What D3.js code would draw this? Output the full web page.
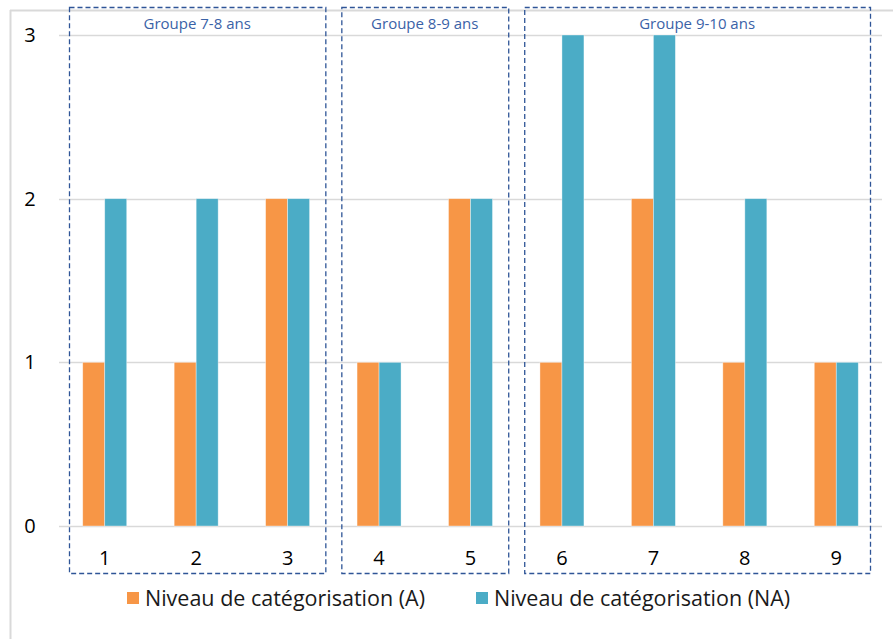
<!DOCTYPE html>
<html><head><meta charset="utf-8">
<script src="https://cdn.jsdelivr.net/npm/d3@7"></script>
<style>body{margin:0;background:#fff}svg{display:block}</style>
</head><body>
<script>
const categories = ["1","2","3","4","5","6","7","8","9"];
const seriesA = [1,1,2,1,2,1,2,1,1];
const seriesNA = [2,2,2,1,2,3,3,2,1];
const seriesNames = ["Niveau de catégorisation (A)", "Niveau de catégorisation (NA)"];
const yTicks = [0,1,2,3];
const groupLabels = ["Groupe 7-8 ans","Groupe 8-9 ans","Groupe 9-10 ans"];
const groupFirst = ["1","4","6"];
const groupLast = ["3","5","9"];

const W = 893, H = 639;
const colors = ["#F79646","#4BACC6"];
const font = "'Open Sans', sans-serif";
const svg = d3.select("body").append("svg").attr("width",W).attr("height",H);

// outer frame
svg.append("line").attr("x1",10.5).attr("x2",10.5).attr("y1",10).attr("y2",H).attr("stroke","#d9d9d9").attr("stroke-width",2);
svg.append("line").attr("x1",10).attr("x2",W).attr("y1",10.5).attr("y2",10.5).attr("stroke","#d9d9d9").attr("stroke-width",2);

const x = d3.scaleBand().domain(categories).range([59,882]);
const y = d3.scaleLinear().domain([0,3]).range([526,35]);

// gridlines
svg.append("g").selectAll("line").data(yTicks).join("line")
  .attr("x1",59).attr("x2",882).attr("y1",d=>Math.round(y(d))+0.5).attr("y2",d=>Math.round(y(d))+0.5)
  .attr("stroke","#d9d9d9").attr("stroke-width",1.5);

// y axis labels
const yAxis = d3.axisLeft(y).tickValues(yTicks).tickSize(0).tickPadding(0).tickFormat(d3.format("d"));
const yg = svg.append("g").attr("transform","translate(30,0)").call(yAxis);
yg.select(".domain").remove();
yg.selectAll("text").attr("font-family",font).attr("font-size",20).attr("fill","#000").attr("text-anchor","middle");

// bars
const bw = 22;
const series = [seriesA, seriesNA];
series.forEach((vals,si)=>{
  svg.append("g").selectAll("rect").data(categories).join("rect")
    .attr("x",(c)=>x(c)+x.bandwidth()/2 + (si===0?-bw:0))
    .attr("width",bw)
    .attr("y",(c,i)=>y(vals[i]))
    .attr("height",(c,i)=>y(0)-y(vals[i]))
    .attr("fill",colors[si]).attr("stroke","#ffffff").attr("stroke-opacity",0.5).attr("stroke-width",0.75);
});

// x axis labels
const xAxis = d3.axisBottom(x).tickSize(0).tickPadding(0);
const xg = svg.append("g").attr("transform","translate(0,558)").call(xAxis);
xg.select(".domain").remove();
xg.selectAll("text").attr("font-family",font).attr("font-size",20).attr("fill","#000").attr("dy","0.35em");

// group boxes
const boxColor = "#2F5597";
groupLabels.forEach((g,i)=>{
  const x0 = x(groupFirst[i]) + (i===0 ? 10 : 8);
  const x1 = x(groupLast[i]) + x.bandwidth() - (i===groupLabels.length-1 ? 12 : 8);
  svg.append("rect").attr("x",x0+0.5).attr("y",7.5).attr("width",x1-x0).attr("height",566)
    .attr("fill","none").attr("stroke",boxColor).attr("stroke-width",1.3).attr("stroke-dasharray","5,3");
  svg.append("text").attr("x",(x0+x1)/2).attr("y",24).attr("dy","0.35em").attr("text-anchor","middle")
    .attr("font-family",font).attr("font-size",15).attr("fill","#3A62A7").text(g);
});

// legend
const legendX = [127, 476];
seriesNames.forEach((n,i)=>{
  svg.append("rect").attr("x",legendX[i]).attr("y",592).attr("width",12).attr("height",12).attr("fill",colors[i]);
  svg.append("text").attr("x",legendX[i]+18).attr("y",598).attr("dy","0.35em")
    .attr("font-family",font).attr("font-size",21.5).attr("fill","#1a1a1a").text(n);
});
</script>
</body></html>
